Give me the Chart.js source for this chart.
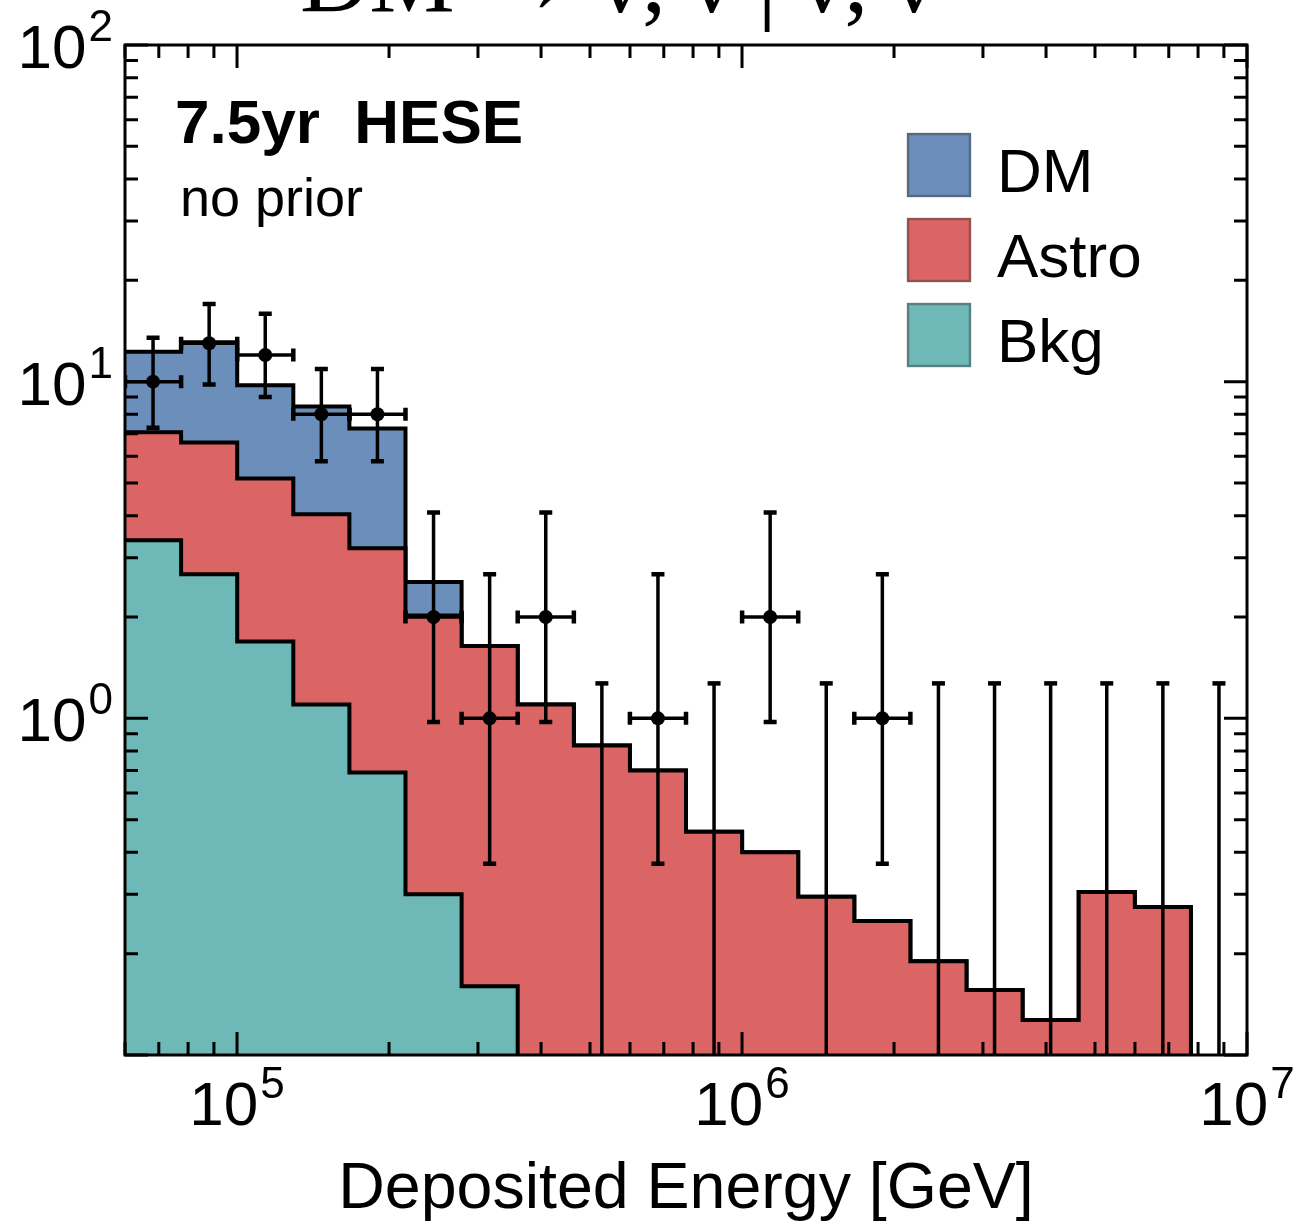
<!DOCTYPE html>
<html>
<head>
<meta charset="utf-8">
<script src="https://cdn.jsdelivr.net/npm/chart.js@4.4.1/dist/chart.umd.min.js"></script>
<style>
  html, body { margin: 0; padding: 0; background: #fff; }
  canvas { display: block; }
</style>
</head>
<body>
<canvas id="chart" width="1299" height="1223"></canvas>
<script>
// 20 log bins in deposited energy [GeV], 60 TeV - 10 PeV
const binEdges = [6.0e4, 7.749e4, 1.0008e5, 1.2925e5, 1.6692e5, 2.1558e5, 2.7842e5, 3.5958e5, 4.645e5, 5.9977e5,
  7.746e5, 1.0004e6, 1.292e6, 1.6686e6, 2.1548e6, 2.7831e6, 3.5944e6, 4.6424e6, 5.9954e6, 7.7435e6, 1.0e7];

// expected events per bin (stacked: Bkg, Astro, DM)
const bkgEvents = [3.38, 2.68, 1.69, 1.10, 0.69, 0.30, 0.16, 0, 0, 0, 0, 0, 0, 0, 0, 0, 0, 0, 0, 0];
const astroEvents = [3.69, 3.92, 3.47, 2.94, 2.51, 1.72, 1.48, 1.10, 0.83, 0.70, 0.46, 0.40, 0.295, 0.25, 0.19, 0.156, 0.127, 0.305, 0.275, 0];
const dmEvents = [5.2, 6.5, 4.6, 4.4, 4.06, 0.52, 0, 0, 0, 0, 0, 0, 0, 0, 0, 0, 0, 0, 0, 0];

// observed events with error bars
const dataCounts = [10, 13, 12, 8, 8, 2, 1, 2, 0, 1, 0, 2, 0, 1, 0, 0, 0, 0, 0, 0];
const dataLow = [7.3, 9.8, 9.0, 5.8, 5.8, 0.975, 0.37, 0.975, 0, 0.37, 0, 0.975, 0, 0.37, 0, 0, 0, 0, 0, 0];
const dataHigh = [13.5, 17.0, 15.9, 10.9, 10.9, 4.09, 2.68, 4.09, 1.27, 2.68, 1.27, 4.09, 1.27, 2.68, 1.27, 1.27, 1.27, 1.27, 1.27, 1.27];

const xMajorTicks = [1e5, 1e6, 1e7];
const xTickLabels = [["10", "5"], ["10", "6"], ["10", "7"]];
const yMajorTicks = [1, 10, 100];
const yTickLabels = [["10", "0"], ["10", "1"], ["10", "2"]];
const legendLabels = ["DM", "Astro", "Bkg"];
const legendColors = ["#6c8ebb", "#db6464", "#6eb9b7"];

const FONT = '"Liberation Sans", Arial, Helvetica, sans-serif';
const FLOOR = 1e-3; // empty bins go below the axis and get clipped

function stepSeries(values) {
  const pts = values.map((v, i) => ({ x: binEdges[i], y: v > 0 ? v : FLOOR }));
  pts.push({ x: binEdges[binEdges.length - 1], y: pts[pts.length - 1].y });
  return pts;
}

const cumAstro = astroEvents.map((v, i) => v + bkgEvents[i]);
const cumTotal = dmEvents.map((v, i) => v + cumAstro[i]);

const binCenters = binEdges.slice(0, -1).map((e, i) => Math.sqrt(e * binEdges[i + 1]));
const dataPoints = dataCounts
  .map((n, i) => ({ x: binCenters[i], y: n }))
  .filter((p) => p.y > 0);

function histDataset(label, data, color, order) {
  return {
    label,
    data,
    order,
    stepped: true,
    fill: "start",
    backgroundColor: color,
    borderColor: "#000",
    borderWidth: 4,
    pointRadius: 0,
  };
}

function drawPow(ctx, base, exp, x, y, align) {
  ctx.font = `62px ${FONT}`;
  const wb = ctx.measureText(base).width;
  ctx.font = `44px ${FONT}`;
  const we = ctx.measureText(exp).width;
  const total = wb + 2 + we;
  const x0 = align === "right" ? x - total : x - total / 2;
  ctx.textAlign = "left";
  ctx.textBaseline = "alphabetic";
  ctx.font = `62px ${FONT}`;
  ctx.fillText(base, x0, y);
  ctx.font = `44px ${FONT}`;
  ctx.fillText(exp, x0 + wb + 2, y - 27);
}

const heseDecor = {
  id: "heseDecor",
  afterDatasetsDraw(chart) {
    const { ctx, chartArea: a, scales: { x, y } } = chart;
    ctx.save();
    ctx.beginPath();
    ctx.rect(a.left, a.top, a.right - a.left, a.bottom - a.top);
    ctx.clip();
    ctx.strokeStyle = "#000";
    ctx.lineCap = "butt";
    dataCounts.forEach((n, i) => {
      const xc = x.getPixelForValue(binCenters[i]);
      const yHi = y.getPixelForValue(dataHigh[i]);
      const yLo = y.getPixelForValue(dataLow[i]);
      ctx.lineWidth = 3.5;
      ctx.beginPath();
      ctx.moveTo(xc, yLo);
      ctx.lineTo(xc, yHi);
      ctx.stroke();
      ctx.lineWidth = 4.5;
      ctx.beginPath();
      ctx.moveTo(xc - 6.5, yHi);
      ctx.lineTo(xc + 6.5, yHi);
      if (n > 0) {
        ctx.moveTo(xc - 6.5, yLo);
        ctx.lineTo(xc + 6.5, yLo);
      }
      ctx.stroke();
      if (n > 0) {
        const yc = y.getPixelForValue(n);
        const xl = x.getPixelForValue(binEdges[i]);
        const xr = x.getPixelForValue(binEdges[i + 1]);
        ctx.lineWidth = 3.5;
        ctx.beginPath();
        ctx.moveTo(xl, yc);
        ctx.lineTo(xr, yc);
        ctx.stroke();
        ctx.lineWidth = 4.5;
        ctx.beginPath();
        ctx.moveTo(xl, yc - 6.5);
        ctx.lineTo(xl, yc + 6.5);
        ctx.moveTo(xr, yc - 6.5);
        ctx.lineTo(xr, yc + 6.5);
        ctx.stroke();
      }
    });
    ctx.restore();
  },
  afterDraw(chart) {
    const { ctx, chartArea: a, scales: { x, y } } = chart;
    ctx.save();
    ctx.strokeStyle = "#000";
    ctx.fillStyle = "#000";

    // frame
    ctx.lineWidth = 3;
    ctx.strokeRect(a.left, a.top, a.right - a.left, a.bottom - a.top);

    // inside ticks on all four sides
    ctx.beginPath();
    for (let d = 4; d <= 7; d++) {
      for (let m = 1; m <= 9; m++) {
        const v = m * Math.pow(10, d);
        if (v < x.min * 0.999 || v > x.max * 1.001) continue;
        const px = x.getPixelForValue(v);
        const len = m === 1 ? 23 : 13;
        ctx.moveTo(px, a.bottom);
        ctx.lineTo(px, a.bottom - len);
        ctx.moveTo(px, a.top);
        ctx.lineTo(px, a.top + len);
      }
    }
    for (let d = -1; d <= 2; d++) {
      for (let m = 1; m <= 9; m++) {
        const v = m * Math.pow(10, d);
        if (v < y.min * 0.999 || v > y.max * 1.001) continue;
        const py = y.getPixelForValue(v);
        const len = m === 1 ? 23 : 13;
        ctx.moveTo(a.left, py);
        ctx.lineTo(a.left + len, py);
        ctx.moveTo(a.right, py);
        ctx.lineTo(a.right - len, py);
      }
    }
    ctx.stroke();

    // tick labels
    xMajorTicks.forEach((v, i) => {
      drawPow(ctx, xTickLabels[i][0], xTickLabels[i][1], x.getPixelForValue(v), 1125, "center");
    });
    yMajorTicks.forEach((v, i) => {
      drawPow(ctx, yTickLabels[i][0], yTickLabels[i][1], 113, y.getPixelForValue(v) + 23, "right");
    });

    // axis title
    ctx.font = `64.5px ${FONT}`;
    ctx.textAlign = "center";
    ctx.fillText("Deposited Energy [GeV]", (a.left + a.right) / 2, 1208);

    // plot title, cut by the top edge
    ctx.font = '96px "Liberation Serif", "DejaVu Serif", serif';
    ctx.textAlign = "left";
    ctx.fillText("DM \u2192 \u03bd, \u03bd\u0304 | \u03bd, \u03bd\u0304", 300, 12);

    // annotations
    ctx.font = `bold 62px ${FONT}`;
    ctx.fillText("7.5yr  HESE", 175, 143);
    ctx.font = `54px ${FONT}`;
    ctx.fillText("no prior", 180, 216);

    // legend
    legendLabels.forEach((lab, i) => {
      const top = 133 + i * 85;
      ctx.fillStyle = legendColors[i];
      ctx.fillRect(907, top, 64, 64);
      ctx.lineWidth = 2.5;
      ctx.strokeStyle = "rgba(60,60,60,0.45)";
      ctx.strokeRect(908, top + 1, 62, 62);
      ctx.fillStyle = "#000";
      ctx.font = `62px ${FONT}`;
      ctx.fillText(lab, 997, top + 59);
    });
    ctx.restore();
  },
};

new Chart(document.getElementById("chart"), {
  type: "line",
  data: {
    datasets: [
      {
        label: "Data",
        data: dataPoints,
        order: 0,
        showLine: false,
        pointRadius: 7,
        pointBackgroundColor: "#000",
        pointBorderWidth: 0,
      },
      histDataset("Bkg", stepSeries(bkgEvents), legendColors[2], 1),
      histDataset("Astro", stepSeries(cumAstro), legendColors[1], 2),
      histDataset("DM", stepSeries(cumTotal), legendColors[0], 3),
    ],
  },
  options: {
    responsive: false,
    animation: false,
    layout: { padding: { left: 125, top: 45, right: 52, bottom: 168 } },
    plugins: { legend: { display: false }, tooltip: { enabled: false } },
    scales: {
      x: { type: "logarithmic", min: 6e4, max: 1e7, display: false },
      y: { type: "logarithmic", min: 0.1, max: 100, display: false },
    },
  },
  plugins: [heseDecor],
});
</script>
</body>
</html>
